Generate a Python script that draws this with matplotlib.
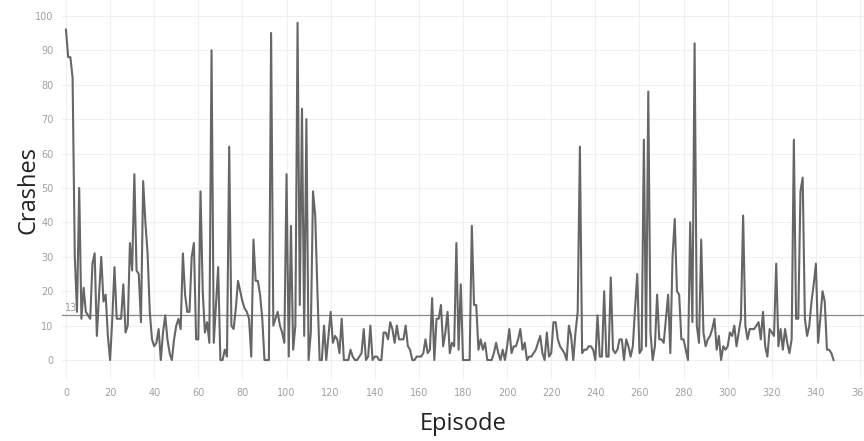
import matplotlib
matplotlib.use("Agg")
import matplotlib.pyplot as plt

# crashes per episode, episode index = position in list
crashes = [
    96, 88, 88, 82, 30, 14, 50, 12, 21, 14,
    13, 12, 28, 31, 7, 19, 30, 17, 19, 7,
    0, 12, 27, 12, 12, 12, 22, 8, 10, 34,
    26, 54, 26, 25, 11, 52, 40, 31, 14, 6,
    4, 5, 9, 0, 8, 13, 6, 2, 0, 6,
    10, 12, 9, 31, 19, 14, 14, 30, 34, 6,
    6, 49, 20, 8, 11, 5, 90, 5, 16, 27,
    0, 0, 3, 1, 62, 10, 9, 15, 23, 20,
    17, 15, 14, 12, 1, 35, 23, 23, 19, 12,
    0, 0, 0, 95, 10, 12, 14, 10, 8, 5,
    54, 1, 39, 3, 10, 98, 16, 73, 7, 70,
    0, 8, 49, 42, 20, 0, 0, 10, 0, 7,
    14, 5, 7, 6, 2, 12, 0, 0, 0, 3,
    1, 0, 0, 1, 2, 9, 0, 1, 10, 0,
    1, 1, 0, 0, 8, 8, 6, 11, 9, 5,
    10, 6, 6, 6, 10, 4, 3, 0, 0, 1,
    1, 1, 2, 6, 2, 3, 18, 0, 12, 12,
    16, 4, 8, 14, 2, 5, 4, 34, 3, 22,
    0, 0, 0, 0, 39, 16, 16, 3, 6, 3,
    5, 0, 0, 0, 2, 5, 2, 0, 3, 0,
    4, 9, 2, 4, 4, 6, 9, 3, 5, 0,
    1, 1, 2, 3, 5, 7, 2, 0, 8, 1,
    2, 11, 11, 6, 4, 3, 2, 0, 10, 7,
    0, 8, 14, 62, 2, 3, 3, 4, 4, 3,
    0, 13, 1, 1, 20, 1, 1, 24, 3, 2,
    3, 6, 6, 0, 6, 4, 1, 4, 15, 25,
    2, 3, 64, 4, 78, 8, 0, 4, 19, 6,
    6, 5, 12, 19, 2, 30, 41, 20, 19, 6,
    6, 3, 0, 40, 11, 92, 10, 5, 35, 8,
    4, 6, 7, 9, 12, 3, 7, 0, 4, 3,
    4, 8, 7, 10, 4, 8, 12, 42, 10, 6,
    9, 9, 9, 10, 11, 6, 14, 4, 1, 9,
    8, 7, 28, 4, 9, 3, 9, 5, 2, 6,
    64, 12, 12, 49, 53, 12, 7, 10, 17, 22,
    28, 5, 12, 20, 17, 3, 3, 2, 0,
]
episodes = list(range(len(crashes)))
mean_line = 13

fig = plt.figure(figsize=(8.64, 4.41), dpi=100)
ax = fig.add_axes([62 / 864, 61 / 441, 802 / 864, 380 / 441])

ax.plot(episodes, crashes, color='#666666', linewidth=1.5, zorder=3)
ax.axhline(mean_line, color='#8a8a8a', linewidth=0.9, zorder=2)
ax.text(-0.5, mean_line + 0.8, str(mean_line), fontsize=7, color='#999999',
        ha='left', va='bottom')

ax.set_xlim(-1.8, 361.8)
ax.set_ylim(-5.8, 104.6)
ax.set_xticks(range(0, 361, 20))
ax.set_yticks(range(0, 101, 10))
ax.grid(True, color='#f0f0f0', linewidth=0.8, zorder=0)
for s in ax.spines.values():
    s.set_visible(False)
ax.tick_params(length=0, labelsize=7, colors='#a0a0a0', pad=6)

ax.set_xlabel('Episode', fontsize=17, color='#222222', family='Open Sans', labelpad=10)
ax.set_ylabel('Crashes', fontsize=17, color='#222222', family='Open Sans')
ax.yaxis.set_label_coords(-0.027, 0.5)

fig.savefig('out.png', dpi=100)
